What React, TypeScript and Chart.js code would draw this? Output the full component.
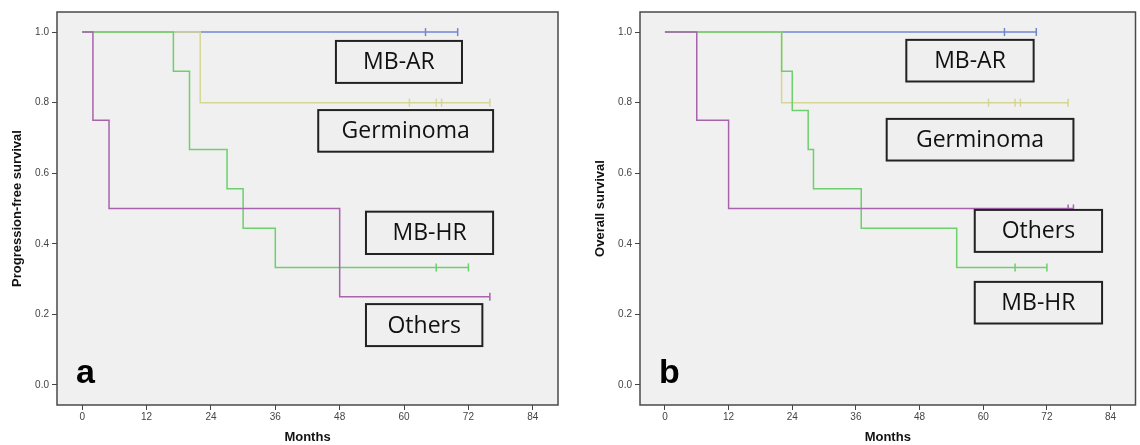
import React, { useEffect, useRef } from "react";
import { Chart, registerables } from "chart.js";

Chart.register(...registerables);

// ---------- axis ticks ----------
const monthTicks = [0, 12, 24, 36, 48, 60, 72, 84];
const survivalTicks = [0, 0.2, 0.4, 0.6, 0.8, 1.0];
const groups = ["MB-AR", "Germinoma", "MB-HR", "Others"];

// ---------- panel a: progression-free survival ----------
const pfsMbArTimes = [0, 70];
const pfsMbArSurv = [1, 1];
const pfsMbArCensor = [64, 70];

const pfsGermTimes = [0, 22, 76];
const pfsGermSurv = [1, 0.8, 0.8];
const pfsGermCensor = [61, 66, 67, 76];

const pfsMbHrTimes = [0, 17, 20, 27, 30, 36, 72];
const pfsMbHrSurv = [1, 0.889, 0.667, 0.556, 0.444, 0.333, 0.333];
const pfsMbHrCensor = [66, 72];

const pfsOthersTimes = [0, 2, 5, 48, 76];
const pfsOthersSurv = [1, 0.75, 0.5, 0.25, 0.25];
const pfsOthersCensor = [76];

// ---------- panel b: overall survival ----------
const osMbArTimes = [0, 70];
const osMbArSurv = [1, 1];
const osMbArCensor = [64, 70];

const osGermTimes = [0, 22, 76];
const osGermSurv = [1, 0.8, 0.8];
const osGermCensor = [61, 66, 67, 76];

const osMbHrTimes = [0, 22, 24, 27, 28, 37, 55, 72];
const osMbHrSurv = [1, 0.889, 0.778, 0.667, 0.556, 0.444, 0.333, 0.333];
const osMbHrCensor = [66, 72];

const osOthersTimes = [0, 6, 12, 77];
const osOthersSurv = [1, 0.75, 0.5, 0.5];
const osOthersCensor = [76, 77];

// ---------- styles ----------
const COLORS: Record<string, string> = {
  "MB-AR": "#7086d4",
  Germinoma: "#d6d694",
  "MB-HR": "#6cd06c",
  Others: "#a862ae",
};

type Series = { name: string; times: number[]; surv: number[]; censor: number[] };
type Box = { label: string; x0: number; x1: number; y0: number; y1: number };

const pfsSeries: Series[] = [
  { name: "Others", times: pfsOthersTimes, surv: pfsOthersSurv, censor: pfsOthersCensor },
  { name: "MB-HR", times: pfsMbHrTimes, surv: pfsMbHrSurv, censor: pfsMbHrCensor },
  { name: "Germinoma", times: pfsGermTimes, surv: pfsGermSurv, censor: pfsGermCensor },
  { name: "MB-AR", times: pfsMbArTimes, surv: pfsMbArSurv, censor: pfsMbArCensor },
];

const osSeries: Series[] = [
  { name: "Others", times: osOthersTimes, surv: osOthersSurv, censor: osOthersCensor },
  { name: "MB-HR", times: osMbHrTimes, surv: osMbHrSurv, censor: osMbHrCensor },
  { name: "Germinoma", times: osGermTimes, surv: osGermSurv, censor: osGermCensor },
  { name: "MB-AR", times: osMbArTimes, surv: osMbArSurv, censor: osMbArCensor },
];

// label box placement (in axis units)
const pfsBoxes: Box[] = [
  { label: groups[0], x0: 47.3, x1: 70.8, y0: 0.975, y1: 0.856 },
  { label: groups[1], x0: 44.0, x1: 76.6, y0: 0.779, y1: 0.661 },
  { label: groups[2], x0: 52.9, x1: 76.6, y0: 0.491, y1: 0.371 },
  { label: groups[3], x0: 52.9, x1: 74.6, y0: 0.229, y1: 0.11 },
];

const osBoxes: Box[] = [
  { label: groups[0], x0: 45.5, x1: 69.5, y0: 0.978, y1: 0.86 },
  { label: groups[1], x0: 41.8, x1: 77.0, y0: 0.754, y1: 0.636 },
  { label: groups[3], x0: 58.4, x1: 82.4, y0: 0.496, y1: 0.377 },
  { label: groups[2], x0: 58.4, x1: 82.4, y0: 0.292, y1: 0.174 },
];

function survAt(times: number[], surv: number[], t: number) {
  let v = surv[0];
  for (let i = 0; i < times.length; i++) {
    if (times[i] <= t) v = surv[i];
  }
  return v;
}

type PanelProps = {
  series: Series[];
  boxes: Box[];
  yTitle: string;
  letter: string;
  width: number;
  yAxisWidth: number;
  yTitlePad: number;
  padRight: number;
  left: number;
};

function Panel(props: PanelProps) {
  const ref = useRef<HTMLCanvasElement | null>(null);
  useEffect(() => {
    if (!ref.current) return;
    const tickFont = { family: "'Liberation Sans', Arial, sans-serif", size: 10 };
    const titleFont = { family: "'Liberation Sans', Arial, sans-serif", size: 13, weight: "bold" as const };

    const datasets: any[] = [];
    props.series.forEach((s) => {
      datasets.push({
        label: s.name,
        data: s.times.map((t, i) => ({ x: t, y: s.surv[i] })),
        stepped: "before",
        borderColor: COLORS[s.name],
        borderWidth: 1.5,
        pointRadius: 0,
        fill: false,
      });
    });
    props.series.forEach((s) => {
      datasets.push({
        label: s.name + " censored",
        data: s.censor.map((t) => ({ x: t, y: survAt(s.times, s.surv, t) })),
        showLine: false,
        pointStyle: "line",
        rotation: 90,
        pointRadius: 4,
        pointBorderWidth: 1.5,
        borderColor: COLORS[s.name],
        backgroundColor: COLORS[s.name],
      });
    });

    const framePlugin = {
      id: "frame",
      beforeDatasetsDraw(chart: any) {
        const { ctx, chartArea: a } = chart;
        ctx.save();
        ctx.fillStyle = "#f0f0f0";
        ctx.fillRect(a.left, a.top, a.right - a.left, a.bottom - a.top);
        ctx.restore();
      },
      afterDatasetsDraw(chart: any) {
        const { ctx, chartArea: a, scales } = chart;
        const xs = scales.x;
        const ys = scales.y;
        ctx.save();
        ctx.strokeStyle = "#4a4a4a";
        ctx.lineWidth = 1.5;
        ctx.strokeRect(a.left, a.top, a.right - a.left, a.bottom - a.top);

        props.boxes.forEach((b) => {
          const x0 = xs.getPixelForValue(b.x0);
          const x1 = xs.getPixelForValue(b.x1);
          const y0 = ys.getPixelForValue(b.y0);
          const y1 = ys.getPixelForValue(b.y1);
          ctx.fillStyle = "#efefef";
          ctx.fillRect(x0, y0, x1 - x0, y1 - y0);
          ctx.strokeStyle = "#222";
          ctx.lineWidth = 2;
          ctx.strokeRect(x0, y0, x1 - x0, y1 - y0);
          ctx.fillStyle = "#111";
          ctx.font = "23px 'Open Sans', sans-serif";
          ctx.textAlign = "center";
          ctx.textBaseline = "middle";
          ctx.fillText(b.label, (x0 + x1) / 2, (y0 + y1) / 2 + 1);
        });

        ctx.fillStyle = "#000";
        ctx.font = "bold 34px 'Liberation Sans', Arial, sans-serif";
        ctx.textAlign = "left";
        ctx.textBaseline = "alphabetic";
        ctx.fillText(props.letter, a.left + 19, a.bottom - 22);
        ctx.restore();
      },
    };

    const chart = new Chart(ref.current, {
      type: "line",
      data: { datasets },
      plugins: [framePlugin],
      options: {
        animation: false,
        responsive: false,
        maintainAspectRatio: false,
        layout: { padding: { top: 12, right: props.padRight, left: 0, bottom: 0 } },
        plugins: { legend: { display: false }, tooltip: { enabled: false } },
        scales: {
          x: {
            type: "linear",
            min: -4.7,
            max: 88.7,
            afterBuildTicks: (s: any) => {
              s.ticks = monthTicks.map((v) => ({ value: v }));
            },
            afterFit: (s: any) => {
              s.height = 40;
            },
            grid: { drawOnChartArea: false, drawTicks: true, tickLength: 5, color: "#444", lineWidth: 1 },
            border: { display: false },
            ticks: {
              font: tickFont,
              color: "#444",
              padding: 1,
              maxRotation: 0,
              autoSkip: false,
              callback: (v: any) => String(v),
            },
            title: {
              display: true,
              text: "Months",
              font: titleFont,
              color: "#111",
              padding: { top: 0, bottom: 0 },
            },
          },
          y: {
            type: "linear",
            min: -0.057,
            max: 1.057,
            afterBuildTicks: (s: any) => {
              s.ticks = survivalTicks.map((v) => ({ value: v }));
            },
            afterFit: (s: any) => {
              s.width = props.yAxisWidth;
            },
            grid: { drawOnChartArea: false, drawTicks: true, tickLength: 5, color: "#444", lineWidth: 1 },
            border: { display: false },
            ticks: {
              font: tickFont,
              color: "#444",
              padding: 3,
              autoSkip: false,
              callback: (v: any) => Number(v).toFixed(1),
            },
            title: {
              display: true,
              text: props.yTitle,
              font: titleFont,
              color: "#111",
              padding: { top: props.yTitlePad, bottom: 0 },
            },
          },
        },
      },
    } as any);
    return () => chart.destroy();
  }, []);

  return (
    <canvas
      ref={ref}
      width={props.width}
      height={445}
      style={{ position: "absolute", left: props.left, top: 0, width: props.width, height: 445 }}
    />
  );
}

export default function App() {
  return (
    <div
      style={{
        position: "absolute",
        left: 0,
        top: 0,
        width: 1140,
        height: 445,
        overflow: "hidden",
        background: "#fff",
      }}
    >
      <Panel
        series={pfsSeries}
        boxes={pfsBoxes}
        yTitle="Progression-free survival"
        letter="a"
        width={570}
        yAxisWidth={57}
        yTitlePad={10}
        padRight={12}
        left={0}
      />
      <Panel
        series={osSeries}
        boxes={osBoxes}
        yTitle="Overall survival"
        letter="b"
        width={571}
        yAxisWidth={70}
        yTitlePad={23}
        padRight={0}
        left={570}
      />
    </div>
  );
}
